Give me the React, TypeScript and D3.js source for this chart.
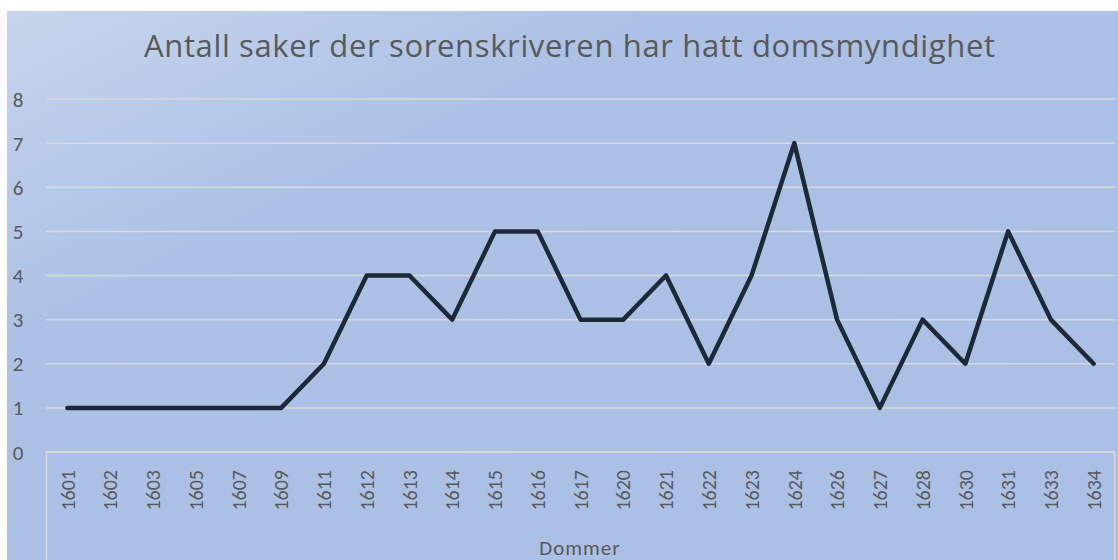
import React, { useEffect, useRef } from "react";
import * as d3 from "d3";

const years = ["1601", "1602", "1603", "1605", "1607", "1609", "1611", "1612", "1613", "1614", "1615", "1616", "1617", "1620", "1621", "1622", "1623", "1624", "1626", "1627", "1628", "1630", "1631", "1633", "1634"];
const cases = [1, 1, 1, 1, 1, 1, 2, 4, 4, 3, 5, 5, 3, 3, 4, 2, 4, 7, 3, 1, 3, 2, 5, 3, 2];
const yTicks = [0, 1, 2, 3, 4, 5, 6, 7, 8];

const width = 1118;
const height = 560;
const font = "Carlito, Calibri, Lato, sans-serif";

const App = () => {
  const ref = useRef(null);

  useEffect(() => {
    const svg = d3.select(ref.current);
    svg.selectAll("*").remove();

    const x = d3.scaleBand().domain(years).range([46, 1115]);
    const y = d3.scaleLinear().domain([0, 8]).range([452, 99]);

    const defs = svg.append("defs");
    const grad = defs
      .append("linearGradient")
      .attr("id", "bg")
      .attr("x1", "0")
      .attr("y1", "0")
      .attr("x2", "1")
      .attr("y2", "1");
    grad.append("stop").attr("offset", "0").attr("stop-color", "#c6d5ed");
    grad.append("stop").attr("offset", "0.3").attr("stop-color", "#adc1e6");
    grad.append("stop").attr("offset", "1").attr("stop-color", "#aabfe5");

    svg.append("rect").attr("width", width).attr("height", height).attr("fill", "#ffffff");
    svg
      .append("rect")
      .attr("x", 7)
      .attr("y", 11)
      .attr("width", width - 7)
      .attr("height", height - 11)
      .attr("fill", "url(#bg)");

    svg
      .append("text")
      .attr("x", 144)
      .attr("y", 57)
      .attr("textLength", 851)
      .attr("lengthAdjust", "spacing")
      .style("font-family", "'Open Sans', sans-serif")
      .style("font-size", "31px")
      .style("fill", "#595959")
      .text("Antall saker der sorenskriveren har hatt domsmyndighet");

    // gridlines
    svg
      .append("g")
      .selectAll("line")
      .data(yTicks)
      .join("line")
      .attr("x1", 46)
      .attr("x2", 1115)
      .attr("y1", d => y(d))
      .attr("y2", d => y(d))
      .attr("stroke", "#d9d9d9")
      .attr("stroke-width", 1.5);

    // category box below zero line
    svg
      .append("path")
      .attr("d", `M46.5,${height}V${y(0)}H1114.5V${height}`)
      .attr("fill", "none")
      .attr("stroke", "#d9d9d9")
      .attr("stroke-width", 1.5);

    svg
      .append("g")
      .selectAll("text")
      .data(yTicks)
      .join("text")
      .attr("x", 18)
      .attr("y", d => y(d))
      .attr("dy", "0.36em")
      .attr("text-anchor", "middle")
      .style("font-family", font)
      .style("font-size", "21px")
      .style("fill", "#595959")
      .text(d => d);

    svg
      .append("g")
      .selectAll("text")
      .data(years)
      .join("text")
      .attr("transform", d => `translate(${x(d) + x.bandwidth() / 2},470) rotate(-90)`)
      .attr("dy", "0.36em")
      .attr("text-anchor", "end")
      .style("font-family", font)
      .style("font-size", "20px")
      .style("fill", "#595959")
      .text(d => d);

    svg
      .append("text")
      .attr("x", 580)
      .attr("y", 555)
      .attr("text-anchor", "middle")
      .style("font-family", font)
      .style("font-size", "21px")
      .style("letter-spacing", "1px")
      .style("fill", "#595959")
      .text("Dommer");

    const line = d3
      .line()
      .x((d, i) => x(years[i]) + x.bandwidth() / 2)
      .y(d => y(d));

    svg
      .append("path")
      .datum(cases)
      .attr("d", line)
      .attr("fill", "none")
      .attr("stroke", "#1e2937")
      .attr("stroke-width", 4.5)
      .attr("stroke-linejoin", "round")
      .attr("stroke-linecap", "round");
  }, []);

  return (
    <svg
      ref={ref}
      width={width}
      height={height}
      style={{ position: "absolute", left: 0, top: 0, display: "block" }}
    />
  );
};

export default App;
